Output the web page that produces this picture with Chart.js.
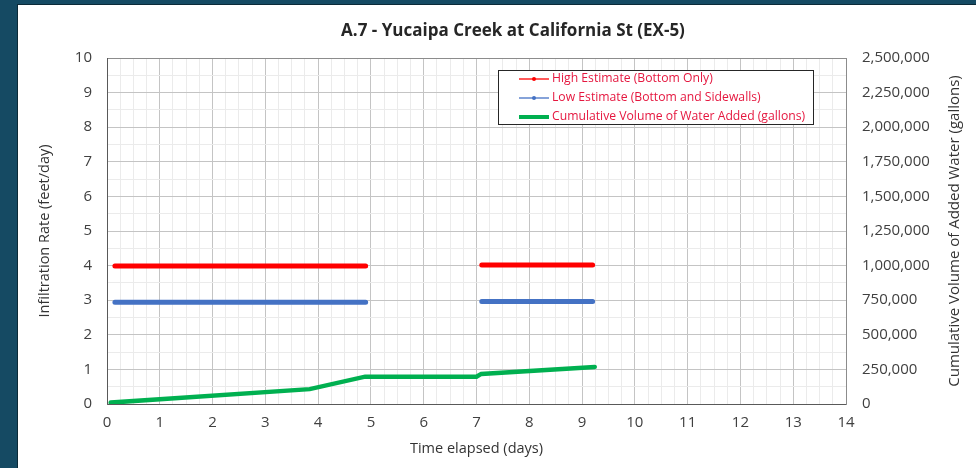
<!DOCTYPE html>
<html>
<head>
<meta charset="utf-8">
<script src="https://cdn.jsdelivr.net/npm/chart.js@4.4.1/dist/chart.umd.min.js"></script>
<style>
    html, body { margin: 0; padding: 0; background: #154a63; }
    #frame {
        position: absolute; left: 17px; top: 4px; width: 959px; height: 464px;
        background: #ffffff; border-top: 1px solid #0b2a38; border-left: 1px solid #0b2a38;
    }
    #chart { position: absolute; left: 0; top: 0; }
</style>
</head>
<body>
<div id="frame"><canvas id="chart" width="958" height="463"></canvas></div>
<script>
const chartTitle = "A.7 - Yucaipa Creek at California St (EX-5)";
const xTitle = "Time elapsed (days)";
const yTitle = "Infiltration Rate (feet/day)";
const y2Title = "Cumulative Volume of Added Water (gallons)";

// days elapsed / values (null = gap between test runs)
const rateDays = [0.15, 4.9, 6.0, 7.1, 9.2];
const highRate = [3.99, 3.99, null, 4.02, 4.02];
const lowRate = [2.94, 2.94, null, 2.96, 2.96];

const volumeDays = [0.07, 3.84, 4.89, 7.0, 7.09, 9.24];
const volumeGallons = [10000, 107500, 197500, 197500, 217500, 267500];

const legendLabels = [
    "High Estimate (Bottom Only)",
    "Low Estimate (Bottom and Sidewalls)",
    "Cumulative Volume of Water Added (gallons)"
];

const toPoints = (xs, ys) => xs.map((x, i) => ({ x: x, y: ys[i] }));

const fontFamily = "'Open Sans', sans-serif";
const tickColor = '#404040';
const titleColor = '#333333';

const isWhole = (v) => Math.abs(v - Math.round(v)) < 1e-6;

// chart title, right axis title (reads bottom to top), legend box and plot frame
const extras = {
    id: 'extras',
    afterDraw(chart) {
        const ctx = chart.ctx;
        const area = chart.chartArea;
        ctx.save();

        ctx.strokeStyle = '#8c8c8c';
        ctx.lineWidth = 1;
        ctx.strokeRect(area.left + 0.5, area.top + 0.5, area.right - area.left, area.bottom - area.top);
        ctx.strokeStyle = '#595959';
        ctx.beginPath();
        ctx.moveTo(area.left + 0.5, area.top);
        ctx.lineTo(area.left + 0.5, area.bottom + 0.5);
        ctx.lineTo(area.right, area.bottom + 0.5);
        ctx.stroke();

        ctx.fillStyle = '#262626';
        ctx.font = "bold 17px " + fontFamily;
        ctx.textAlign = 'center';
        ctx.textBaseline = 'middle';
        ctx.fillText(chartTitle, 495, 26);

        ctx.save();
        ctx.translate(937, (area.top + area.bottom) / 2);
        ctx.rotate(-Math.PI / 2);
        ctx.fillStyle = titleColor;
        ctx.font = "15px " + fontFamily;
        ctx.fillText(y2Title, 0, 0);
        ctx.restore();

        // legend
        const bx = 480, by = 65, bw = 315, bh = 54;
        ctx.fillStyle = '#ffffff';
        ctx.fillRect(bx, by, bw, bh);
        ctx.strokeStyle = '#262626';
        ctx.strokeRect(bx + 0.5, by + 0.5, bw, bh);
        ctx.font = "12.2px " + fontFamily;
        ctx.textAlign = 'left';
        chart.data.datasets.forEach((ds, i) => {
            const ly = by + 9 + i * 19;
            ctx.strokeStyle = ds.borderColor;
            ctx.lineWidth = i === 2 ? 4 : 1.3;
            ctx.beginPath();
            ctx.moveTo(bx + 21, ly);
            ctx.lineTo(bx + 51, ly);
            ctx.stroke();
            if (i < 2) {
                ctx.fillStyle = ds.borderColor;
                ctx.beginPath();
                ctx.arc(bx + 36, ly, 2, 0, Math.PI * 2);
                ctx.fill();
            }
            ctx.fillStyle = '#e5173f';
            ctx.fillText(legendLabels[i], bx + 54, ly);
        });
        ctx.restore();
    }
};

new Chart(document.getElementById('chart'), {
    type: 'line',
    data: {
        datasets: [
            {
                label: legendLabels[0],
                data: toPoints(rateDays, highRate),
                borderColor: '#ff0000',
                borderWidth: 5,
                pointRadius: 0,
                borderCapStyle: 'round',
                yAxisID: 'y'
            },
            {
                label: legendLabels[1],
                data: toPoints(rateDays, lowRate),
                borderColor: '#4472c4',
                borderWidth: 5,
                pointRadius: 0,
                borderCapStyle: 'round',
                yAxisID: 'y'
            },
            {
                label: legendLabels[2],
                data: toPoints(volumeDays, volumeGallons),
                borderColor: '#00b050',
                borderWidth: 4.5,
                pointRadius: 0,
                borderCapStyle: 'round',
                yAxisID: 'y2'
            }
        ]
    },
    options: {
        responsive: false,
        animation: false,
        spanGaps: false,
        layout: { padding: { left: 0, right: 0, top: 53, bottom: 0 } },
        plugins: {
            legend: { display: false },
            title: { display: false },
            tooltip: { enabled: false }
        },
        scales: {
            x: {
                type: 'linear',
                min: 0,
                max: 14,
                afterBuildTicks: (axis) => {
                    const ticks = [];
                    for (let i = 0; i <= 56; i++) ticks.push({ value: i * 0.25 });
                    axis.ticks = ticks;
                },
                afterFit: (axis) => { axis.height = 64; },
                border: { display: false },
                grid: {
                    drawTicks: false,
                    color: (c) => isWhole(c.tick.value) ? '#c4c4c4' : '#ebebeb'
                },
                ticks: {
                    autoSkip: false,
                    maxRotation: 0,
                    padding: 10,
                    color: tickColor,
                    font: { family: fontFamily, size: 15 },
                    callback: (v) => isWhole(v) ? String(Math.round(v)) : ''
                },
                title: {
                    display: true,
                    text: xTitle,
                    color: titleColor,
                    font: { family: fontFamily, size: 14.5 },
                    padding: { top: 0, bottom: 10 }
                }
            },
            y: {
                position: 'left',
                min: 0,
                max: 10,
                afterBuildTicks: (axis) => {
                    const ticks = [];
                    for (let i = 0; i <= 20; i++) ticks.push({ value: i * 0.5 });
                    axis.ticks = ticks;
                },
                afterFit: (axis) => { axis.width = 89; },
                border: { display: false },
                grid: {
                    drawTicks: false,
                    color: (c) => isWhole(c.tick.value) ? '#c4c4c4' : '#ebebeb'
                },
                ticks: {
                    autoSkip: false,
                    padding: 15,
                    color: tickColor,
                    font: { family: fontFamily, size: 15 },
                    callback: (v) => isWhole(v) ? String(Math.round(v)) : ''
                },
                title: {
                    display: true,
                    text: yTitle,
                    color: titleColor,
                    font: { family: fontFamily, size: 14.5 },
                    padding: { top: 18, bottom: 0 }
                }
            },
            y2: {
                position: 'right',
                min: 0,
                max: 2500000,
                afterFit: (axis) => { axis.width = 130; },
                border: { display: false },
                grid: { drawOnChartArea: false, drawTicks: false },
                ticks: {
                    stepSize: 250000,
                    padding: 16,
                    color: tickColor,
                    font: { family: fontFamily, size: 15 },
                    callback: (v) => v.toLocaleString('en-US')
                }
            }
        }
    },
    plugins: [extras]
});
</script>
</body>
</html>
